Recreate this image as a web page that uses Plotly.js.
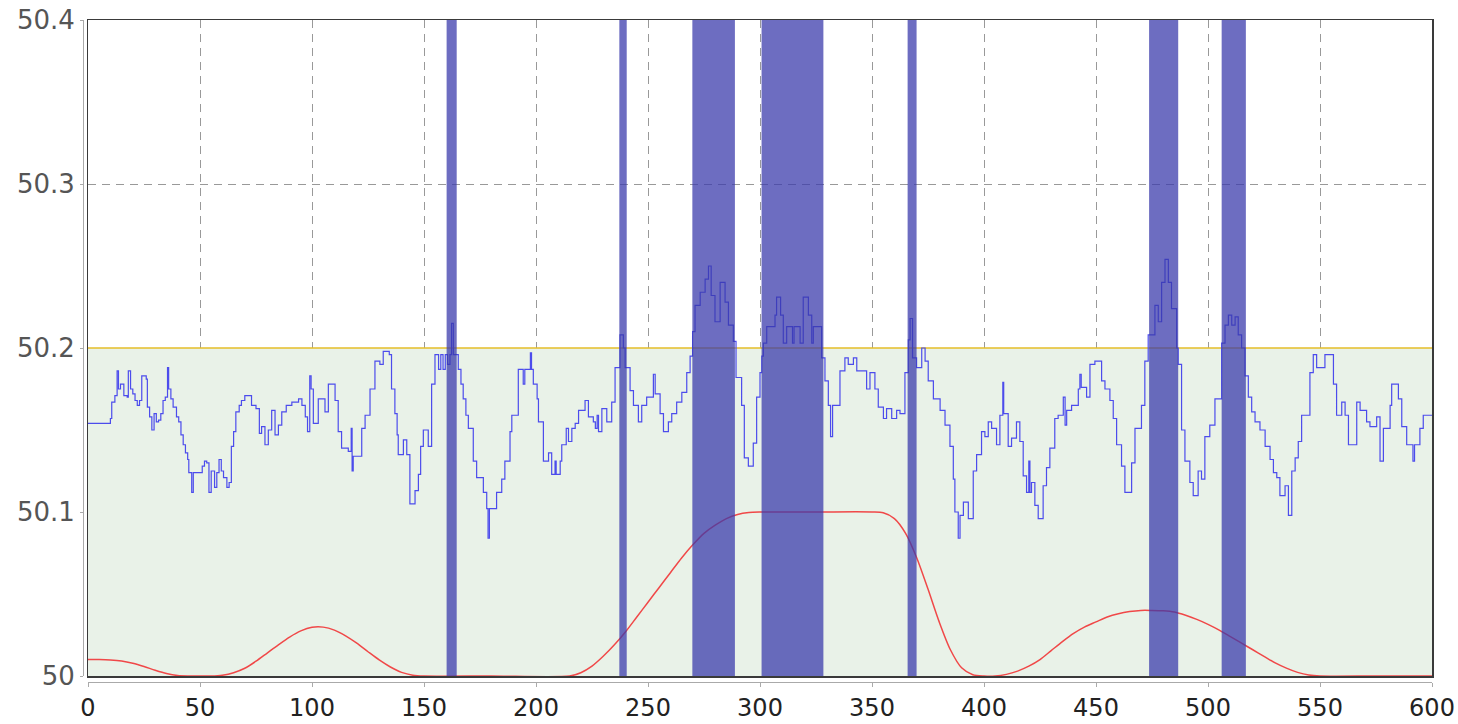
<!DOCTYPE html>
<html><head><meta charset="utf-8">
<script src="https://cdn.plot.ly/plotly-3.0.1.min.js"></script>
<style>html,body{margin:0;padding:0;background:#fff;}#chart{width:1458px;height:724px;}</style>
</head><body><div id="chart"></div>
<script>
// Frequency step series (blue)
const freqX = [
  0,10,10.6,12,13,13.6,14.5,16,17.5,18, 19,20,21,22,23,24,26,26.5,27.5,28.5,
  29.5,30.5,31.5,32.5,33.5,34.5,35.5,36,37,38, 39.5,40.5,41.5,42.5,43.5,44.5,45,46.3,47,51,
  52,53,54,55,56.5,57.5,58.5,59.5,60.5,62, 63,64,65,66,67.5,68.5,70,73,75,76.5,
  77.5,79,80.5,82,83.5,85,86.5,88.5,91,94, 95.5,97,98,99,99.6,
  100.6,102.8,105.8,107.3,110.3,111.7,113.2,116.2,117.5,117.9, 118.4,122.2,123.7,125.9,128.1,130.3,131.8,134.5,135.5,137,
  138,138.5,140.8,142.3,143.7,146,147.5,148.5,149.7,151.9, 153.4,154.9,156.5,157.5,158.5,159.5,160.5,161.6,162.3,163.1,
  165.3,166.5,167.5,168.7,169.8,172,173.5,176.5,178,178.6, 179.2,182.4,184.7,186.1,188.4,189.2,192.1,194.3,195,197.5,
  198,198.8,200.5,
  201.1,203.3,205.6,207,208.5,209,210.8,211.5,213.5,214.5, 216,217.5,219,221.9,223.4,225.6,226.5,227.3,227.9,229.4,
  231.6,233.8,235.3,237.5,239,239.8,242,243.5,245.7,247.2, 249.4,252.4,253.2,255.4,256.9,259.1,260.6,262.8,265.1,267.3,
  268.8,269.9,271,273.3,275.5,277,278.2,279.9,282.2,284.4, 285.9,288.1,289.3,291.8,293,294.8,297,298.5,300,
  300.8,301.5,303,306.7,307.4,309.2,310.4,311.9,314.5,315.2, 317.9,319.3,321.6,323.1,323.8,327.5,329,330.5,331.5,332.4,
  335.7,337.9,339.4,341.7,343.2,347.6,349.1,351.3,352.8,355.1, 356.5,358.8,361,362.5,364.7,366.2,367,368.1,369.9,372.2,
  373.7,375.1,377.4,380.4,382.6,384.8,386.3,387,388.5,389.3, 390.8,393,395.2,396.7,398.9,
  400.4,401.9,403.4,405.6,407.1,408.4,408.8,410.8,412.3,414.5, 416,417.5,419,420,420.5,421.2,422.7,424.2,426.4,427.9,
  429.4,431.6,433.1,435.4,436.2,436.9,439.1,442.1,442.8,443.4, 445.8,447.3,449.5,452.5,454,456.2,457.7,459.2,461.4,462.9,
  465.9,467.4,470.3,471.8,473.3,476.3,477.8,479.3,480.8,482.3, 483.7,486,486.7,488.2,489.7,491.9,493.4,495.6,497.1,498.6,
  500.8,503.1,506.1,507.6,509.1,510.6,512.1,513.5,515,516.5, 518,519.5,521,523.2,525.5,527.7,529.2,530.7,532.1,534.4,
  535.9,537.4,538.9,540.3,541.8,545.5,547,548.5,552.2,556, 557.4,559.7,561.2,562.7,566.4,567.9,570.8,572.3,575.3,576.8,
  578.3,581.3,582,585,586.5,588.7,591.5,592.2,594.6,596.1, 600
];
const freqY = [
  50.154,50.157,50.167,50.171,50.186,50.175,50.178,50.171,50.170,50.186, 50.175,50.172,50.168,50.165,50.168,50.183,50.181,50.164,50.158,50.150,
  50.160,50.155,50.156,50.160,50.168,50.170,50.188,50.175,50.169,50.164, 50.158,50.155,50.147,50.141,50.136,50.132,50.124,50.112,50.124,50.128,
  50.131,50.130,50.112,50.125,50.115,50.124,50.132,50.125,50.121,50.115, 50.118,50.140,50.149,50.161,50.165,50.168,50.171,50.165,50.163,50.148,
  50.152,50.141,50.150,50.162,50.147,50.153,50.161,50.165,50.167,50.169, 50.165,50.158,50.149,50.183,50.175,
  50.154,50.169,50.161,50.178,50.168,50.149,50.139,50.137,50.151,50.125, 50.134,50.151,50.159,50.175,50.192,50.190,50.198,50.196,50.175,50.160,
  50.147,50.135,50.144,50.135,50.105,50.113,50.123,50.140,50.150,50.140, 50.178,50.196,50.187,50.196,50.187,50.196,50.190,50.196,50.215,50.196,
  50.187,50.178,50.169,50.159,50.151,50.131,50.121,50.112,50.102,50.084, 50.102,50.112,50.120,50.131,50.149,50.159,50.187,50.178,50.187,50.197,
  50.187,50.178,50.169,
  50.155,50.131,50.136,50.123,50.131,50.123,50.131,50.141,50.151,50.143, 50.151,50.154,50.162,50.168,50.158,50.155,50.151,50.159,50.149,50.163,
  50.155,50.167,50.188,50.208,50.200,50.188,50.174,50.165,50.155,50.165, 50.170,50.184,50.172,50.160,50.149,50.155,50.160,50.167,50.173,50.185,
  50.195,50.210,50.226,50.234,50.242,50.250,50.232,50.216,50.240,50.228, 50.214,50.204,50.182,50.165,50.133,50.128,50.142,50.170,50.185,
  50.195,50.203,50.213,50.220,50.231,50.220,50.203,50.213,50.203,50.213, 50.203,50.231,50.220,50.203,50.213,50.194,50.180,50.165,50.146,50.165,
  50.186,50.194,50.190,50.194,50.186,50.175,50.185,50.175,50.164,50.157, 50.163,50.157,50.162,50.160,50.185,50.205,50.218,50.194,50.188,50.200,
  50.192,50.180,50.169,50.162,50.153,50.140,50.120,50.100,50.084,50.098, 50.106,50.096,50.125,50.135,50.149,
  50.146,50.155,50.151,50.141,50.159,50.179,50.160,50.140,50.145,50.155, 50.143,50.122,50.112,50.131,50.112,50.118,50.104,50.096,50.116,50.127,
  50.139,50.157,50.159,50.170,50.153,50.162,50.165,50.175,50.184,50.176, 50.170,50.190,50.192,50.180,50.175,50.168,50.157,50.141,50.128,50.112,
  50.130,50.151,50.165,50.192,50.208,50.226,50.216,50.240,50.254,50.240, 50.224,50.200,50.190,50.150,50.131,50.118,50.110,50.125,50.120,50.146,
  50.153,50.169,50.203,50.214,50.220,50.214,50.219,50.208,50.200,50.183, 50.170,50.161,50.155,50.150,50.140,50.132,50.124,50.121,50.110,50.116,
  50.098,50.125,50.133,50.143,50.159,50.185,50.196,50.188,50.196,50.178, 50.159,50.167,50.159,50.141,50.167,50.162,50.155,50.152,50.158,50.131,
  50.151,50.165,50.178,50.169,50.152,50.141,50.131,50.141,50.151,50.159, 50.159
];

// Smooth red curve
const curveX = [0,5,10,15,20,25,30,35,40,45,50,55,60,65,70,75,80,85,90,95,100,105,110,115,120,125,130,135,140,145,150,180,215,
  220,225,230,235,240,245,250,255,260,265,270,275,280,285,290,295,300,325,350,355,360,365,370,375,380,385,390,395,400,
  405,410,415,420,425,430,435,440,445,450,455,460,465,470,475,480,485,490,495,500,505,510,515,520,525,530,535,540,545,550,575,600];
const curveY = [50.010,50.010,50.0098,50.0092,50.0078,50.0058,50.0035,50.0015,50.0003,50,50,50,50.0005,50.002,50.0047,50.009,50.014,50.019,50.0237,50.0275,
  50.0297,50.0298,50.028,50.0245,50.020,50.0148,50.0098,50.0055,50.0022,50.0005,50,50,50,
  50.002,50.006,50.012,50.019,50.027,50.036,50.045,50.054,50.063,50.072,50.080,50.087,50.092,50.096,50.0985,50.0997,50.1,50.1,50.1,
  50.0995,50.096,50.087,50.072,50.053,50.033,50.016,50.005,50.0008,50,
  50,50.001,50.003,50.006,50.010,50.0155,50.021,50.026,50.030,50.033,50.036,50.038,50.0393,50.040,50.040,50.0398,50.039,50.037,50.0345,50.0315,
  50.028,50.024,50.020,50.016,50.012,50.008,50.0048,50.0022,50.0006,50,50,50];

// Limit band
const limitX = [0, 600];
const upperLimit = [50.2, 50.2];
const lowerLimit = [50, 50];

// Highlighted intervals (above limit)
const bandStart = [160.1, 237.2, 269.8, 300.7, 365.9, 473.7, 506.1];
const bandEnd   = [164.6, 240.5, 288.8, 328.3, 369.9, 486.7, 516.9];

const xRange = [0, 600];
const yRange = [50, 50.4];
const xTicks = [0,50,100,150,200,250,300,350,400,450,500,550,600];
const yTicks = [50, 50.1, 50.2, 50.3, 50.4];
const yTickText = ['50','50.1','50.2','50.3','50.4'];

const font = 'DejaVu Sans, Verdana, sans-serif';
const xDom = [5/1349, 1];
const yDom = [6/662, 1];

const traces = [
  {x: limitX, y: lowerLimit, mode: 'lines', line: {width: 0, color: 'rgba(0,0,0,0)'}, hoverinfo: 'skip', showlegend: false},
  {x: limitX, y: upperLimit, mode: 'lines', fill: 'tonexty', fillcolor: 'rgb(233,242,232)',
   line: {color: 'rgb(228,190,40)', width: 1.5}, hoverinfo: 'skip', showlegend: false},
  {x: freqX, y: freqY, mode: 'lines', line: {shape: 'hv', color: 'rgb(76,76,236)', width: 1.2}, showlegend: false},
  {x: curveX, y: curveY, mode: 'lines', line: {shape: 'spline', smoothing: 0.8, color: 'rgb(240,72,72)', width: 1.5}, showlegend: false},
  {x: [null], y: [null], xaxis: 'x2', yaxis: 'y2', mode: 'lines', hoverinfo: 'skip', showlegend: false}
];

const gridStyle = {showgrid: true, gridcolor: '#999999', gridwidth: 1, griddash: '8px,6px'};

const shapes = bandStart.map((s, i) => ({
  type: 'rect', xref: 'x', yref: 'y', x0: s, x1: bandEnd[i], y0: yRange[0], y1: yRange[1],
  fillcolor: 'rgba(58,58,172,0.74)', line: {width: 0}, layer: 'above'
}));

const layout = {
  width: 1458, height: 724,
  margin: {l: 83, r: 26, t: 20, b: 42, pad: 0},
  paper_bgcolor: '#ffffff', plot_bgcolor: '#ffffff',
  showlegend: false,
  xaxis: Object.assign({domain: xDom, range: xRange, tickvals: xTicks, showticklabels: false, ticks: '',
    showline: true, mirror: true, linecolor: '#3a3a3a', linewidth: 1.5, zeroline: false}, gridStyle),
  yaxis: Object.assign({domain: yDom, range: yRange, tickvals: yTicks, showticklabels: false, ticks: '',
    showline: true, mirror: true, linecolor: '#3a3a3a', linewidth: 1.5, zeroline: false}, gridStyle),
  xaxis2: {overlaying: 'x', anchor: 'free', position: 0, domain: xDom, range: xRange,
    tickvals: xTicks, ticktext: xTicks.map(String), ticks: 'outside', ticklen: 4, tickcolor: '#aaaaaa',
    showline: true, linecolor: '#aaaaaa', linewidth: 1, showgrid: false, zeroline: false,
    tickfont: {family: font, size: 24, color: '#222222'}},
  yaxis2: {overlaying: 'y', anchor: 'free', position: 0, side: 'left', domain: yDom, range: yRange,
    tickvals: yTicks, ticktext: yTickText, ticks: 'outside', ticklen: 3, tickcolor: '#aaaaaa',
    showline: true, linecolor: '#aaaaaa', linewidth: 1, showgrid: false, zeroline: false,
    tickfont: {family: font, size: 26, color: '#555555'}},
  shapes: shapes
};

Plotly.newPlot('chart', traces, layout, {displayModeBar: false, staticPlot: true});
</script>
</body></html>
